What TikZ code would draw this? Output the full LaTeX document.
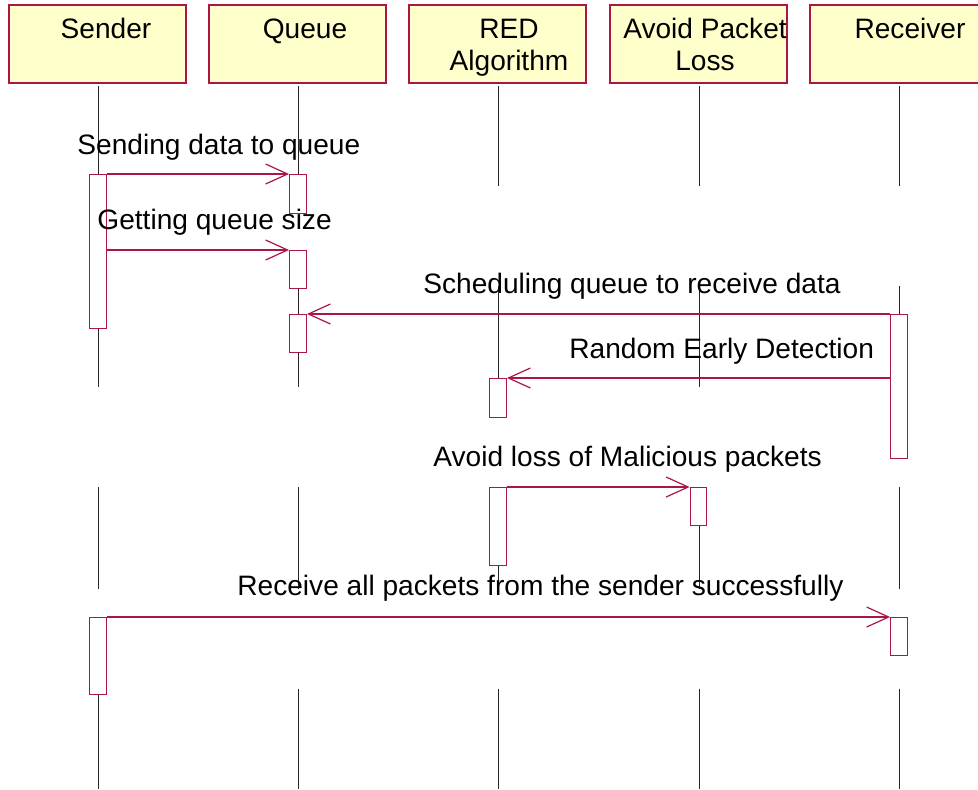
\documentclass[tikz,border=0pt]{standalone}
\usepackage{fontspec}
\setmainfont{Liberation Sans}
\usetikzlibrary{arrows.meta}
\definecolor{umlred}{RGB}{172,22,70}
\definecolor{umlyellow}{RGB}{255,255,204}
\tikzset{
  x=0.5pt, y=-0.5pt,
  lbl/.style={font=\fontsize{14.05}{16}\selectfont, inner sep=0pt},
  header/.style={draw=umlred, fill=umlyellow, line width=0.6pt,
    minimum width=88.5pt, minimum height=39pt, inner sep=0pt},
  lifeline/.style={draw=black!85, line width=0.5pt},
  act/.style={draw=umlred, fill=white, line width=0.65pt, anchor=north,
    minimum width=8.3pt, inner sep=0pt},
  msg/.style={draw=umlred, line width=0.6pt,
    -{Straight Barb[length=11pt,width=10pt,line width=0.6pt]}},
}
\begin{document}
\begin{tikzpicture}
\clip (0,0) rectangle (978,789);
\fill[white] (0,0) rectangle (978,789);

% object headers
\node[header] (hS) at (97.5,44) {};
\node[header] (hQ) at (297.5,44) {};
\node[header] (hR) at (497.5,44) {};
\node[header] (hA) at (698.5,44) {};
\node[header] (hV) at (898.5,44) {};
\node[lbl, anchor=base] (tS) at (106,38) {Sender};
\node[lbl, anchor=base] (tQ) at (305,38) {Queue};
\node[lbl, anchor=base] (tR1) at (509,38) {RED};
\node[lbl, anchor=base] (tR2) at (509,70) {Algorithm};
\node[lbl, anchor=base] (tA1) at (705,38) {Avoid Packet};
\node[lbl, anchor=base] (tA2) at (705,70) {Loss};
\node[lbl, anchor=base] (tV) at (910,38) {Receiver};

% lifelines, broken into segments of 100 units
\foreach \lx in {98.5,298.5,498.5,699,899}{
  \foreach \ya/\yb in {86/186, 286/387, 487/589, 689/789}{
    \draw[lifeline] (\lx,\ya) -- (\lx,\yb);
  }
}

% activation bars
\node[act, minimum height=77pt] (sa1) at (98,174) {};
\node[act, minimum height=19.5pt] (qa1) at (298,174) {};
\node[act, minimum height=19pt] (qa2) at (298,250) {};
\node[act, minimum height=19pt] (qa3) at (298,314) {};
\node[act, minimum height=72pt] (ra1) at (899,314) {};
\node[act, minimum height=19.5pt] (ea1) at (498,378) {};
\node[act, minimum height=39pt] (ea2) at (498,487) {};
\node[act, minimum height=19pt] (pa1) at (698.5,487) {};
\node[act, minimum height=38.5pt] (sa2) at (98,617) {};
\node[act, minimum height=19pt] (ra2) at (899,617) {};

% messages
\draw[msg] (sa1.north east) -- (qa1.north west);
\draw[msg] (sa1.east |- qa2.north) -- (qa2.north west);
\draw[msg] (ra1.north west) -- (qa3.north east);
\draw[msg] (ra1.west |- ea1.north) -- (ea1.north east);
\draw[msg] (ea2.north east) -- (pa1.north west);
\draw[msg] (sa2.north east) -- (ra2.north west);

% message labels
\node[lbl, anchor=base west] (m1) at (77,154) {Sending data to queue};
\node[lbl, anchor=base west] (m2) at (97,229) {Getting queue size};
\node[lbl, anchor=base west] (m3) at (423,293) {Scheduling queue to receive data};
\node[lbl, anchor=base west] (m4) at (569,358) {Random Early Detection};
\node[lbl, anchor=base west] (m5) at (433,466) {Avoid loss of Malicious packets};
\node[lbl, anchor=base west] (m6) at (237,595) {Receive all packets from the sender successfully};
\end{tikzpicture}
\end{document}
